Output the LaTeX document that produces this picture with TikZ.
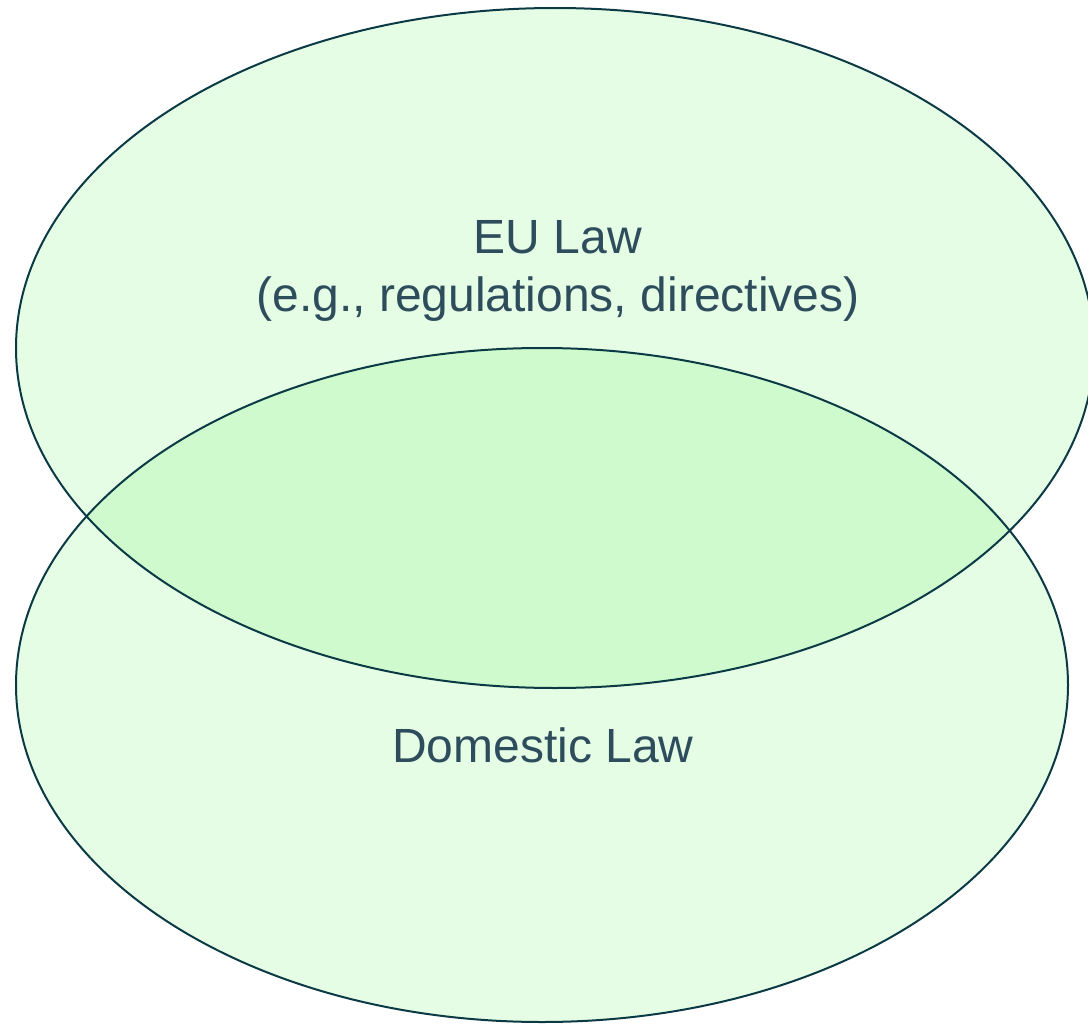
\documentclass[tikz,border=0pt]{standalone}
\usepackage{fontspec}
\setmainfont{Liberation Sans}
\definecolor{lawfill}{RGB}{0,230,0}
\definecolor{lawline}{RGB}{11,58,69}
\definecolor{lawtext}{RGB}{46,77,92}
\tikzset{
  lawset/.style={fill=lawfill, fill opacity=0.1},
  lawedge/.style={draw=lawline, line width=2pt},
  lawlabel/.style={text=lawtext, inner sep=0pt, font=\fontsize{48}{58}\selectfont, align=center}
}
\begin{document}
\begin{tikzpicture}[x=1pt,y=-1pt]
  \useasboundingbox (0,0) rectangle (1088,1025);
  \clip (0,0) rectangle (1088,1025);
  % the two overlapping sets
  \coordinate (eu) at (555,348);
  \coordinate (dom) at (542,685);
  \fill[lawset] (eu) ellipse [x radius=539, y radius=340];
  \fill[lawset] (dom) ellipse [x radius=526, y radius=337];
  \draw[lawedge] (eu) ellipse [x radius=539, y radius=340];
  \draw[lawedge] (dom) ellipse [x radius=526, y radius=337];
  % labels
  \node[lawlabel] (eulabel) at (558,271) {EU Law\\(e.g., regulations, directives)};
  \node[lawlabel, anchor=base] (domlabel) at (543,762) {Domestic Law};
\end{tikzpicture}
\end{document}
